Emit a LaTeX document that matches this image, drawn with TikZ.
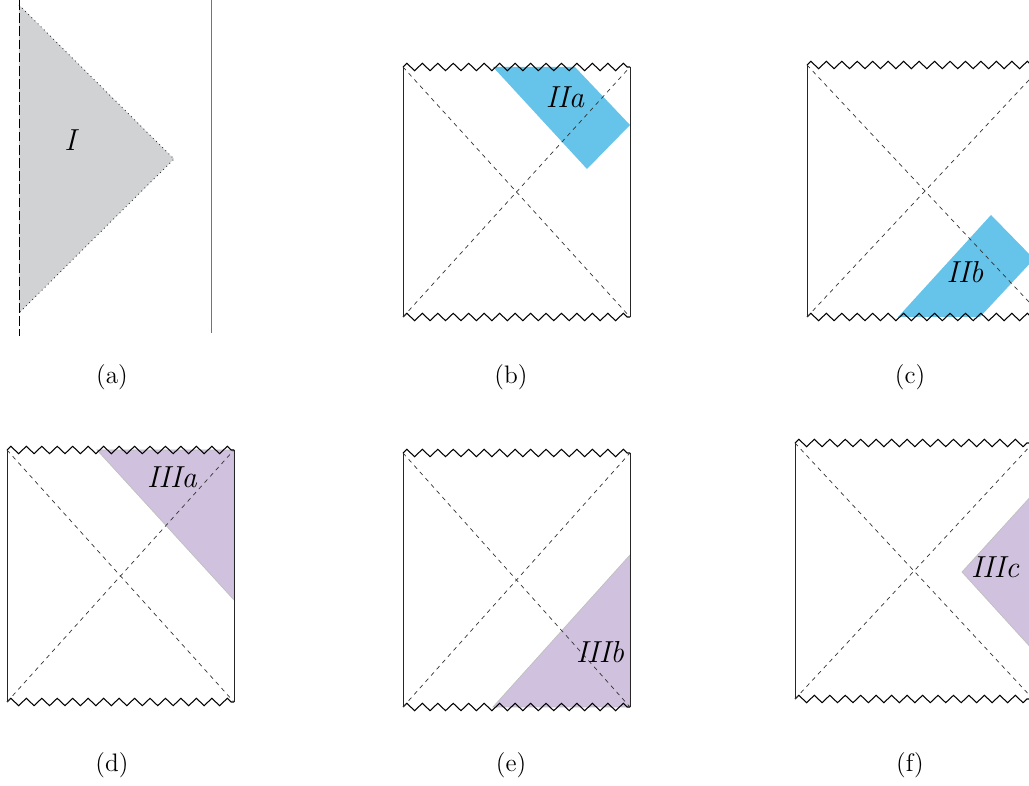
\documentclass[tikz,border=0pt]{standalone}
\usetikzlibrary{decorations.pathmorphing}

\definecolor{regiongray}{RGB}{209,210,212}
\definecolor{regionblue}{RGB}{102,195,233}
\definecolor{regionpurple}{RGB}{208,194,222}

\begin{document}
\begin{tikzpicture}[x=0.02cm, y=-0.02cm,
    singular/.style={decorate, decoration={zigzag, segment length=8.8pt, amplitude=2.1pt}, line width=0.6pt},
    horizon/.style={dashed, dash pattern=on 2.4pt off 2.4pt, line width=0.4pt, black!80},
    boundary/.style={line width=0.5pt, black!85},
    label/.style={font=\LARGE\itshape},
    caption/.style={font=\Large}]
        \useasboundingbox (0,0) rectangle (1029,786);
        \clip (0,0) rectangle (1029,786);

        % (a) Oblast I
        \fill[regiongray] (19,5) -- (174,159) -- (19,313) -- cycle;
        \draw[dotted, line width=0.5pt, black!80] (19,5) -- (174,159) -- (19,313);
        \draw[dashed, dash pattern=on 5.5pt off 2pt, line width=0.5pt] (19,0) -- (19,336);
        \draw[line width=0.5pt, black!55] (211,0) -- (211,333);
        \node[label] (lI) at (70,140) {I};

        % Vyplnene oblasti (pod ramecky)
        \fill[regionblue] (493,67) -- (575,67) -- (630,125) -- (587,169) -- cycle;
        \fill[regionblue] (898,317) -- (980,317) -- (1034,259) -- (991,215) -- cycle;
        \filldraw[regionpurple, draw=black!25, line width=0.4pt] (97,450) -- (234,450) -- (234,600) -- cycle;
        \filldraw[regionpurple, draw=black!25, line width=0.4pt] (493,707) -- (630,707) -- (630,555) -- cycle;
        \filldraw[regionpurple, draw=black!25, line width=0.4pt] (962,572) -- (1033,494) -- (1033,650) -- cycle;

        % Penroseovy diagramy (b)--(f): okraje, singularity, horizonty
        \foreach \l/\t/\r/\b in {403/67/630/317, 807/65/1043/317, 7/450/234/702, 403/453/630/707, 795/443/1033/699} {
            \draw[boundary] (\l,\t) -- (\l,\b);
            \draw[boundary] (\r,\t) -- (\r,\b);
            \draw[singular] (\l,\t) -- (\r,\t);
            \draw[singular] (\l,\b) -- (\r,\b);
            \draw[horizon] (\l,\t) -- (\r,\b);
            \draw[horizon] (\l,\b) -- (\r,\t);
        }

        % Popisky oblasti
        \node[label] (lIIa) at (565,97) {IIa};
        \node[label] (lIIb) at (965,272) {IIb};
        \node[label] (lIIIa) at (172,477) {IIIa};
        \node[label] (lIIIb) at (600,652) {IIIb};
        \node[label] (lIIIc) at (995,567) {IIIc};

        % Titulky
        \node[caption] (ca) at (112,377) {(a)};
        \node[caption] (cb) at (511,377) {(b)};
        \node[caption] (cc) at (910,377) {(c)};
        \node[caption] (cd) at (112,765) {(d)};
        \node[caption] (ce) at (511,765) {(e)};
        \node[caption] (cf) at (910,765) {(f)};

    \end{tikzpicture}
\end{document}
